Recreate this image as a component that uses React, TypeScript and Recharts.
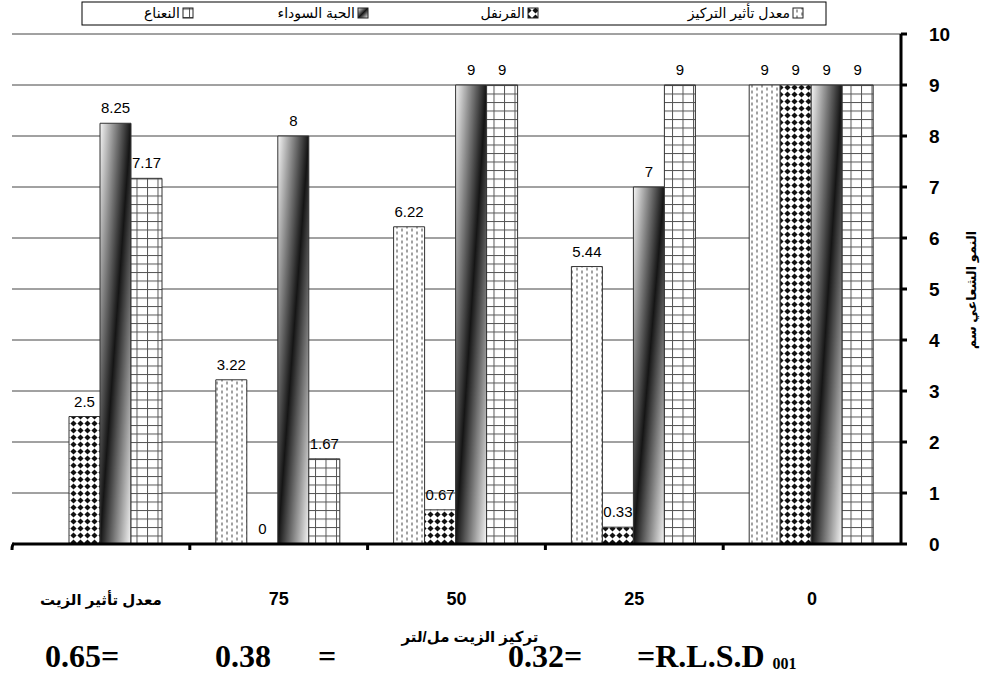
import React from "react";
import { BarChart, Bar, XAxis, YAxis, CartesianGrid, LabelList } from "recharts";

const categories = ["معدل تأثير الزيت", "75", "50", "25", "0"];
const concentrationEffect = [null, 3.22, 6.22, 5.44, 9];
const clove = [2.5, 0, 0.67, 0.33, 9];
const blackSeed = [8.25, 8, 9, 7, 9];
const mint = [7.17, 1.67, 9, 9, 9];
const yTicks = [0, 1, 2, 3, 4, 5, 6, 7, 8, 9, 10];

const seriesNames = ["معدل تأثير التركيز", "القرنفل", "الحبة السوداء", "النعناع"];

const W = 992;
const H = 675;
const margin = { top: 34, right: 30, left: 12, bottom: 101 };
const Y_W = 61;
const PLOT_W = W - margin.left - margin.right - Y_W;
const BAND = PLOT_W / categories.length;

const data = categories.map((name, i) => ({
  name,
  conc: concentrationEffect[i],
  clove: clove[i],
  seed: blackSeed[i],
  mint: mint[i],
}));

const FONT = "'Liberation Sans', 'DejaVu Sans', sans-serif";

function XTick(props: any) {
  const { x, y, payload, index } = props;
  const isText = index === 0;
  const left = x - BAND / 2;
  return (
    <g>
      <path
        d={index === 0 ? `M${left + 2},${y - 8} Q${left},${y - 8} ${left},${y - 2}` : `M${left},${y - 8} L${left},${y - 2}`}
        stroke="#000"
        strokeWidth={3}
        fill="none"
      />
      <text
        x={x}
        y={y + 53}
        textAnchor="middle"
        fontFamily={FONT}
        fontWeight="bold"
        fontSize={isText ? 15 : 18}
        fill="#000"
      >
        {payload.value}
      </text>
    </g>
  );
}

function YTick(props: any) {
  const { x, y, payload } = props;
  return (
    <text x={x + 20} y={y + 7} textAnchor="start" fontFamily={FONT} fontWeight="bold" fontSize={19} fill="#000">
      {payload.value}
    </text>
  );
}

function BarLabel(props: any) {
  const { x, y, width, value } = props;
  if (value === null || value === undefined) return null;
  return (
    <text x={x + width / 2} y={y - 10} textAnchor="middle" fontFamily={FONT} fontSize={15} fill="#000">
      {value}
    </text>
  );
}

// keep zero-valued bars in the layout (invisible) so their "0" label is drawn
const zeroKeep = (value: any) => (value === 0 ? 0.01 : 0);

const fills = ["url(#dots)", "url(#diamonds)", "url(#cyl)", "url(#grid)"];
const keys = ["conc", "clove", "seed", "mint"];

function Swatch({ x, y, fill }: { x: number; y: number; fill: string }) {
  return <rect x={x} y={y} width={10} height={10} fill={fill} stroke="#222" strokeWidth={1} />;
}

export default function App() {
  const legendItems = [
    { name: seriesNames[3], fill: fills[3], end: 180 },
    { name: seriesNames[2], fill: fills[2], end: 355 },
    { name: seriesNames[1], fill: fills[1], end: 525 },
    { name: seriesNames[0], fill: fills[0], end: 790 },
  ];
  return (
    <div style={{ position: "absolute", left: 0, top: 0, width: W, height: H, background: "#fff" }}>
      <svg width={0} height={0} style={{ position: "absolute" }}>
        <defs>
          <pattern id="dots" patternUnits="userSpaceOnUse" width={10} height={6}>
            <rect width={10} height={6} fill="#fff" />
            <line x1={2} y1={0.5} x2={2} y2={3.5} stroke="#444" strokeWidth={1} />
            <line x1={7} y1={3.5} x2={7} y2={6} stroke="#444" strokeWidth={1} />
            <line x1={7} y1={0} x2={7} y2={0.5} stroke="#444" strokeWidth={1} />
          </pattern>
          <pattern id="diamonds" patternUnits="userSpaceOnUse" width={7} height={7}>
            <rect width={7} height={7} fill="#fff" />
            <polygon points="3.5,0.4 6.6,3.5 3.5,6.6 0.4,3.5" fill="#111" />
          </pattern>
          <pattern id="grid" patternUnits="userSpaceOnUse" width={10.5} height={8.5}>
            <rect width={10.5} height={8.5} fill="#fff" />
            <line x1={0.5} y1={0} x2={0.5} y2={8.5} stroke="#555" strokeWidth={1} />
            <line x1={0} y1={0.5} x2={10.5} y2={0.5} stroke="#555" strokeWidth={1} />
          </pattern>
          <linearGradient id="cyl" x1="0" y1="0" x2="1" y2="1">
            <stop offset="0" stopColor="#f6f6f6" />
            <stop offset="0.5" stopColor="#151515" />
            <stop offset="1" stopColor="#f6f6f6" />
          </linearGradient>
        </defs>
      </svg>
      <BarChart width={W} height={H} data={data} margin={margin} barCategoryGap={26} barGap={0}>
        <CartesianGrid vertical={false} stroke="#444" strokeWidth={1} />
        <XAxis
          dataKey="name"
          axisLine={{ stroke: "#000", strokeWidth: 3 }}
          tickLine={false}
          tick={<XTick />}
          height={30}
          interval={0}
        />
        <YAxis
          orientation="right"
          domain={[0, 10]}
          ticks={yTicks}
          width={Y_W}
          axisLine={{ stroke: "#000", strokeWidth: 3 }}
          tickLine={{ stroke: "#000", strokeWidth: 3 }}
          tickSize={6}
          tick={<YTick />}
          interval={0}
        />
        {keys.map((k, i) => (
          <Bar
            key={k}
            dataKey={k}
            fill={fills[i]}
            stroke="#333"
            strokeWidth={1}
            minPointSize={zeroKeep}
            isAnimationActive={false}
          >
            <LabelList dataKey={k} content={<BarLabel />} />
          </Bar>
        ))}
      </BarChart>
      <svg width={W} height={H} style={{ position: "absolute", left: 0, top: 0, pointerEvents: "none" }}>
        <rect x={82} y={2} width={744} height={23} fill="#fff" stroke="#000" strokeWidth={1} />
        {legendItems.map((it) => (
          <g key={it.name}>
            <text x={it.end} y={18} textAnchor="end" fontFamily={FONT} fontSize={14} fill="#000">
              {it.name}
            </text>
            <Swatch x={it.end + 3} y={8} fill={it.fill} />
          </g>
        ))}
        <text
          transform="translate(976,290) rotate(-90)"
          textAnchor="middle"
          fontFamily={FONT}
          fontWeight="bold"
          fontSize={13}
          fill="#000"
        >
          النمو الشعاعي سم
        </text>
        <text x={470} y={642} textAnchor="middle" fontFamily={FONT} fontWeight="bold" fontSize={15} fill="#000">
          تركيز الزيت مل/لتر
        </text>
        <g fontFamily="'Liberation Serif', serif" fontWeight="bold" fontSize={32} fill="#000">
          <text x={45} y={667}>0.65=</text>
          <text x={215} y={667}>0.38</text>
          <text x={318} y={667}>=</text>
          <text x={508} y={667}>0.32=</text>
          <text x={637} y={667}>
            =R.L.S.D
            <tspan fontSize={16} dx={8} dy={2}>001</tspan>
          </text>
        </g>
      </svg>
    </div>
  );
}
